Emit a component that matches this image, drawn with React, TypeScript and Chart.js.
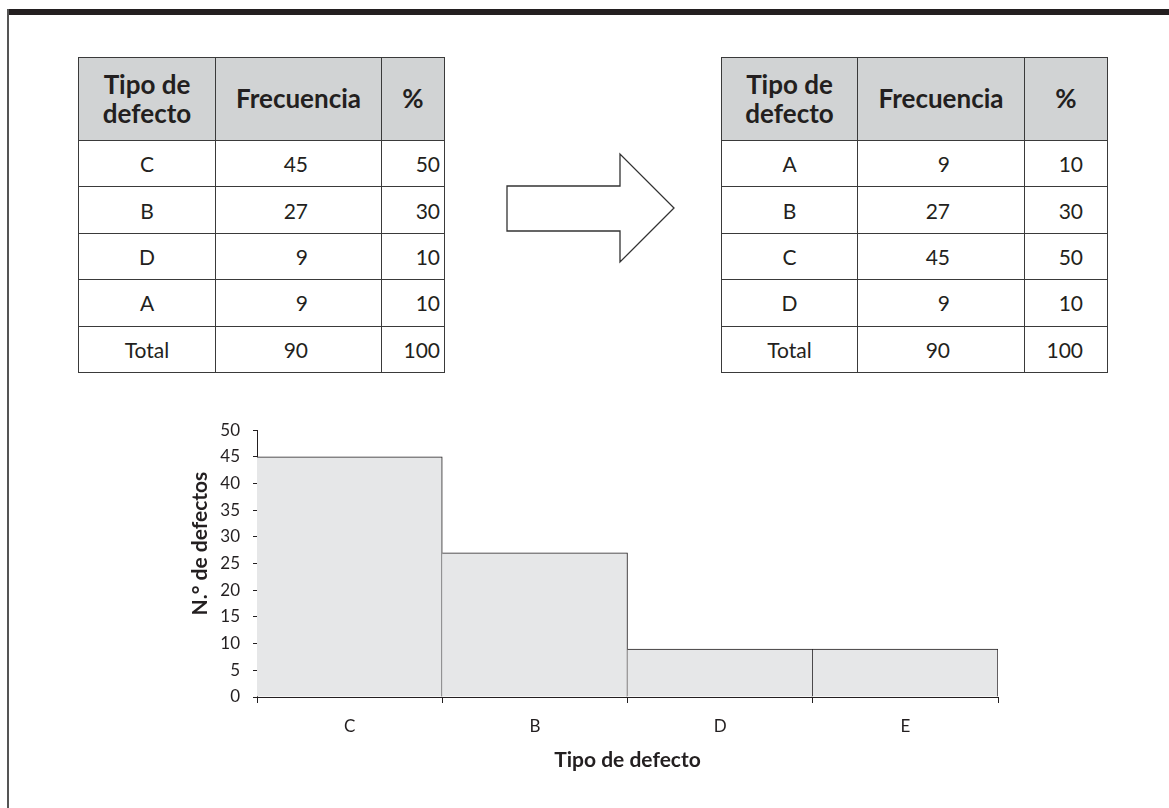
import React, { useEffect, useRef } from "react";
import { Chart, registerables } from "chart.js";

Chart.register(...registerables);

// ---- Data ----
const tableHeaders = ["Tipo de defecto", "Frecuencia", "%"];
const leftTypes = ["C", "B", "D", "A"];
const leftFreq = [45, 27, 9, 9];
const leftPct = [50, 30, 10, 10];
const rightTypes = ["A", "B", "C", "D"];
const rightFreq = [9, 27, 45, 9];
const rightPct = [10, 30, 50, 10];
const totalLabel = "Total";
const totalFreq = 90;
const totalPct = 100;

const chartCategories = ["C", "B", "D", "E"];
const chartValues = [45, 27, 9, 9];
const yAxisTitle = "N.° de defectos";
const xAxisTitle = "Tipo de defecto";
const yMax = 50;
const yStep = 5;

const FONT = "Lato, 'Open Sans', sans-serif";
const INK = "#231f20";
const LINE = "1.5px solid #3a3a3a";

function DataTable(props: {
  left: number;
  widths: number[];
  types: string[];
  freq: number[];
  pct: number[];
  freqPadRight: number;
  pctPadRight: number;
}) {
  const { left, widths, types, freq, pct, freqPadRight, pctPadRight } = props;
  const headerH = 82;
  const rowH = 45.4;
  const cellBase: React.CSSProperties = {
    border: LINE,
    padding: 0,
    fontFamily: FONT,
    color: INK,
  };
  const bodyCell = (extra: React.CSSProperties): React.CSSProperties => ({
    ...cellBase,
    height: rowH,
    fontSize: 21,
    ...extra,
  });
  const rows = types.map((t, i) => ({ t, f: freq[i], p: pct[i] }));
  return (
    <table
      style={{
        position: "absolute",
        left,
        top: 57,
        borderCollapse: "collapse",
        tableLayout: "fixed",
        width: widths.reduce((a, b) => a + b, 0),
      }}
    >
      <colgroup>
        {widths.map((w, i) => (
          <col key={i} style={{ width: w }} />
        ))}
      </colgroup>
      <thead>
        <tr>
          {tableHeaders.map((h, i) => (
            <th
              key={i}
              style={{
                ...cellBase,
                height: headerH,
                background: "#d1d3d4",
                fontSize: 26,
                fontWeight: 700,
                lineHeight: 1.12,
                textAlign: "center",
                padding: i === 0 ? "0 4px" : 0,
              }}
            >
              {h}
            </th>
          ))}
        </tr>
      </thead>
      <tbody>
        {rows.map((r, i) => (
          <tr key={i}>
            <td style={bodyCell({ textAlign: "center" })}>{r.t}</td>
            <td style={bodyCell({ textAlign: "right", paddingRight: freqPadRight })}>{r.f}</td>
            <td style={bodyCell({ textAlign: "right", paddingRight: pctPadRight })}>{r.p}</td>
          </tr>
        ))}
        <tr>
          <td style={bodyCell({ textAlign: "center" })}>{totalLabel}</td>
          <td style={bodyCell({ textAlign: "right", paddingRight: freqPadRight })}>{totalFreq}</td>
          <td style={bodyCell({ textAlign: "right", paddingRight: pctPadRight })}>{totalPct}</td>
        </tr>
      </tbody>
    </table>
  );
}

function ParetoChart() {
  const ref = useRef<HTMLCanvasElement | null>(null);
  useEffect(() => {
    if (!ref.current) return;
    const yTitlePlugin = {
      id: "yTitle",
      afterDraw(chart: any) {
        const { ctx, chartArea } = chart;
        ctx.save();
        ctx.font = `700 21px ${FONT}`;
        ctx.fillStyle = INK;
        ctx.textAlign = "center";
        ctx.textBaseline = "middle";
        ctx.translate(chartArea.left - 57, (chartArea.top + chartArea.bottom) / 2 - 20);
        ctx.rotate(-Math.PI / 2);
        ctx.fillText(yAxisTitle, 0, 0);
        ctx.restore();
      },
    };
    const chart = new Chart(ref.current, {
      type: "bar",
      data: {
        labels: chartCategories,
        datasets: [
          {
            data: chartValues,
            backgroundColor: "#e6e7e8",
            borderColor: INK,
            borderWidth: { top: 1, right: 1, left: 0, bottom: 0 },
            borderSkipped: false,
            categoryPercentage: 1,
            barPercentage: 1,
          },
        ],
      },
      plugins: [yTitlePlugin],
      options: {
        animation: false,
        responsive: false,
        maintainAspectRatio: false,
        layout: { padding: { top: 7, right: 32, left: 0, bottom: 0 } },
        plugins: {
          legend: { display: false },
          tooltip: { enabled: false },
          title: { display: false },
        },
        scales: {
          x: {
            type: "category",
            offset: true,
            grid: {
              offset: true,
              drawOnChartArea: false,
              display: true,
              tickLength: 6,
              color: INK,
              tickColor: INK,
              lineWidth: 1,
            },
            border: { display: true, color: INK, width: 1 },
            ticks: {
              color: INK,
              font: { family: FONT, size: 17 },
              padding: 13,
              maxRotation: 0,
            },
            title: {
              display: true,
              text: xAxisTitle,
              color: INK,
              font: { family: FONT, size: 21, weight: "bold" },
              padding: { top: 0, bottom: 12 },
            },
            afterFit(scale: any) {
              scale.height = 88;
            },
          },
          y: {
            min: 0,
            max: yMax,
            grid: {
              drawOnChartArea: false,
              display: true,
              tickLength: 4,
              color: INK,
              tickColor: INK,
              lineWidth: 1,
            },
            border: { display: true, color: INK, width: 1 },
            ticks: {
              stepSize: yStep,
              color: INK,
              font: { family: FONT, size: 17 },
              padding: 13,
            },
            afterFit(scale: any) {
              scale.width = 107;
            },
          },
        },
      },
    });
    return () => chart.destroy();
  }, []);
  return (
    <canvas
      ref={ref}
      width={880}
      height={378}
      style={{ position: "absolute", left: 150, top: 407, width: 880, height: 378 }}
    />
  );
}

export default function App() {
  return (
    <div
      style={{
        position: "fixed",
        left: 0,
        top: 0,
        width: 1169,
        height: 808,
        background: "#ffffff",
        overflow: "hidden",
        fontFamily: FONT,
      }}
    >
      <div style={{ position: "absolute", left: 7, top: 9, width: 1162, height: 6, background: INK }} />
      <div style={{ position: "absolute", left: 7, top: 9, width: 2, height: 799, background: "#555555" }} />

      <DataTable
        left={78}
        widths={[137, 166, 63]}
        types={leftTypes}
        freq={leftFreq}
        pct={leftPct}
        freqPadRight={73}
        pctPadRight={4}
      />

      <svg
        style={{ position: "absolute", left: 0, top: 0 }}
        width={1169}
        height={808}
      >
        <polygon
          points="507,186 620,186 620,154 674,208 620,262 620,231 507,231"
          fill="#ffffff"
          stroke="#333333"
          strokeWidth={1.3}
        />
      </svg>

      <DataTable
        left={721}
        widths={[136, 167, 83]}
        types={rightTypes}
        freq={rightFreq}
        pct={rightPct}
        freqPadRight={74}
        pctPadRight={24}
      />

      <ParetoChart />
    </div>
  );
}
